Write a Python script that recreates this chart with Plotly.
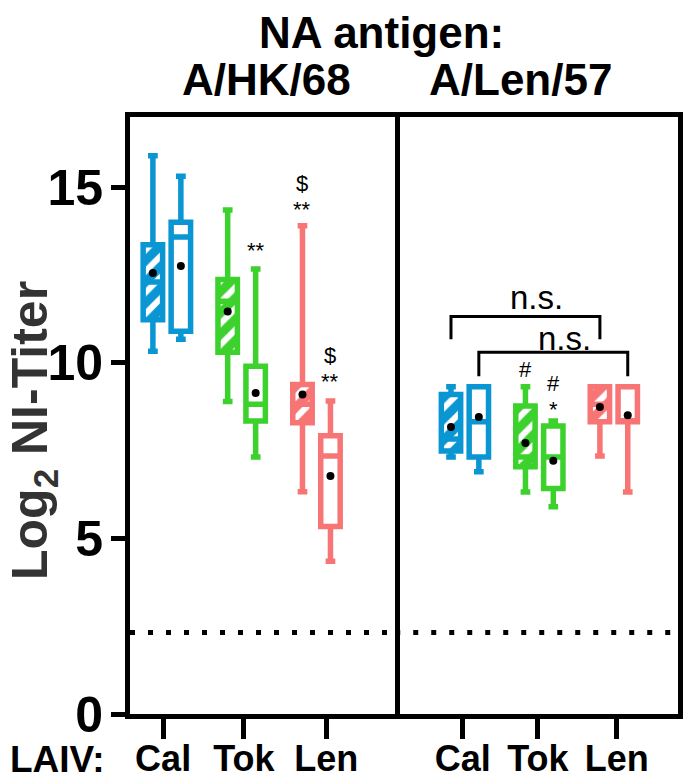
import plotly.graph_objects as go

# ---------------- data ----------------
laiv = ["Cal", "Tok", "Len"]
colors = {"Cal": "#0a95d3", "Tok": "#3dd12e", "Len": "#f77575"}

# NA antigen A/HK/68 : [hatched, open] per LAIV group
hk_low    = {"Cal": [10.33, 10.67], "Tok": [8.90, 7.32],  "Len": [6.33, 4.35]}
hk_q1     = {"Cal": [11.23, 10.90], "Tok": [10.30, 8.34], "Len": [8.29, 5.34]}
hk_median = {"Cal": [12.30, 13.58], "Tok": [11.75, 8.82], "Len": [8.82, 7.35]}
hk_q3     = {"Cal": [13.36, 14.00], "Tok": [12.37, 9.90], "Len": [9.38, 7.92]}
hk_high   = {"Cal": [15.90, 15.31], "Tok": [14.35, 12.67], "Len": [13.90, 8.91]}
hk_mean   = {"Cal": [12.56, 12.76], "Tok": [11.46, 9.14], "Len": [9.10, 6.78]}

# NA antigen A/Len/57
len_low    = {"Cal": [7.32, 6.90], "Tok": [6.32, 5.90], "Len": [7.35, 6.32]}
len_q1     = {"Cal": [7.49, 7.32], "Tok": [7.04, 6.42], "Len": [8.32, 8.32]}
len_median = {"Cal": [7.83, 8.32], "Tok": [7.32, 7.32], "Len": [8.82, 8.32]}
len_q3     = {"Cal": [9.10, 9.32], "Tok": [8.77, 8.20], "Len": [9.32, 9.32]}
len_high   = {"Cal": [9.32, 9.32], "Tok": [9.32, 8.34], "Len": [9.32, 9.32]}
len_mean   = {"Cal": [8.17, 8.46], "Tok": [7.72, 7.21], "Len": [8.74, 8.51]}

detection_limit = 2.32
y_ticks = [0, 5, 10, 15]

# significance labels: (panel, group, member, text, y)
sig_labels = [
    ("hk", "Tok", 1, "**", 13.2),
    ("hk", "Len", 0, "**", 14.38),
    ("hk", "Len", 0, "$", 15.1),
    ("hk", "Len", 1, "**", 9.48),
    ("hk", "Len", 1, "$", 10.2),
    ("len", "Tok", 0, "#", 9.82),
    ("len", "Tok", 1, "#", 9.42),
    ("len", "Tok", 1, "*", 8.68),
]
# brackets (panel len): (from group, member), (to group, member), bar y, leg y, text, text y
brackets = [
    (("Cal", 0), ("Len", 0), 11.32, 10.67, "n.s.", 11.85),
    (("Cal", 1), ("Len", 1), 10.30, 9.62, "n.s.", 10.68),
]

# ---------------- layout helpers ----------------
OFF = 0.187
BW = 0.26

def pos(g, m):
    return laiv.index(g) + (-OFF if m == 0 else OFF)

W, H = 689, 779
L, R, T, B = 130, 11, 117, 65
pw, ph = W - L - R, H - T - B
def px(xp): return (xp - L) / pw
def py(yp): return (H - B - yp) / ph

fig = go.Figure()

panels = [
    ("hk", "x", "y", hk_low, hk_q1, hk_median, hk_q3, hk_high, hk_mean),
    ("len", "x2", "y2", len_low, len_q1, len_median, len_q3, len_high, len_mean),
]

for name, xa, ya, lo, q1, med, q3, hi, mn in panels:
    for g in laiv:
        c = colors[g]
        fig.add_trace(go.Bar(
            x=[pos(g, 0)], y=[q3[g][0] - q1[g][0]], base=[q1[g][0]], width=BW,
            marker=dict(color=c, line=dict(width=0),
                        pattern=dict(shape="/", fgcolor="white", bgcolor=c,
                                     size=15, solidity=0.4, fillmode="replace")),
            xaxis=xa, yaxis=ya, showlegend=False, hoverinfo="skip"))
        for m in (0, 1):
            fig.add_trace(go.Box(
                x=[pos(g, m)], q1=[q1[g][m]], median=[med[g][m]], q3=[q3[g][m]],
                lowerfence=[lo[g][m]], upperfence=[hi[g][m]],
                width=BW, whiskerwidth=0.5,
                line=dict(color=c, width=5.5),
                fillcolor="rgba(0,0,0,0)" if m == 0 else "white",
                boxpoints=False, xaxis=xa, yaxis=ya, showlegend=False))
    fig.add_trace(go.Scatter(
        x=[pos(g, m) for g in laiv for m in (0, 1)],
        y=[mn[g][m] for g in laiv for m in (0, 1)],
        mode="markers", marker=dict(color="black", size=8),
        xaxis=xa, yaxis=ya, showlegend=False))

for xa, ya in (("x", "y"), ("x2", "y2")):
    fig.add_shape(type="line", xref=f"{xa} domain", yref=ya, x0=0, x1=1,
                  y0=detection_limit, y1=detection_limit,
                  line=dict(color="black", width=5, dash="5px,13px"))

ann_font = dict(family="Liberation Sans, Arial", size=22, color="black")
for panel, g, m, t, yv in sig_labels:
    xa = "x" if panel == "hk" else "x2"
    ya = "y" if panel == "hk" else "y2"
    fig.add_annotation(x=pos(g, m), y=yv, xref=xa, yref=ya, text=t,
                       showarrow=False, font=ann_font,
                       xanchor="center", yanchor="middle")

for (g0, m0), (g1, m1), ybar, yleg, t, yt in brackets:
    x0, x1 = pos(g0, m0), pos(g1, m1)
    fig.add_trace(go.Scatter(x=[x0, x0, x1, x1], y=[yleg, ybar, ybar, yleg],
                             mode="lines", line=dict(color="black", width=3),
                             xaxis="x2", yaxis="y2", showlegend=False,
                             hoverinfo="skip"))
    fig.add_annotation(x=(x0 + x1) / 2 + 0.15, y=yt, xref="x2", yref="y2",
                       text=t, showarrow=False, xanchor="center", yanchor="middle",
                       font=dict(family="Liberation Sans, Arial", size=33, color="black"))

bold = dict(family="Liberation Sans, Arial", size=40, color="black", weight="bold")
axis_common = dict(showgrid=False, zeroline=False, automargin=False,
                   linecolor="black", linewidth=5)

D = 0.484
fig.update_layout(
    width=W, height=H,
    margin=dict(l=L, r=R, t=T, b=B),
    plot_bgcolor="white", paper_bgcolor="white",
    barmode="overlay",
    xaxis=dict(domain=[0, D], range=[-0.493, 3.053],
               tickvals=[-0.05, 1.03, 2.13], ticktext=laiv,
               ticks="outside", ticklen=20, tickwidth=5, tickcolor="black",
               ticklabelstandoff=-11,
               tickfont=dict(bold, size=36), showline=True, mirror=True,
               **axis_common),
    xaxis2=dict(domain=[D, 1], range=[-0.936, 2.862], anchor="y2",
                tickvals=[-0.03, 0.98, 2.04], ticktext=laiv,
                ticks="outside", ticklen=20, tickwidth=5, tickcolor="black",
                ticklabelstandoff=-11,
                tickfont=dict(bold, size=36), showline=True, mirror=True,
                **axis_common),
    yaxis=dict(range=[0, 17], tickvals=y_ticks, ticks="outside", ticklen=14,
               tickwidth=5, tickcolor="black", tickfont=dict(bold, size=50),
               ticklabelstandoff=-2,
               showline=True, mirror=True, **axis_common),
    yaxis2=dict(range=[0, 17], anchor="x2", matches="y", showticklabels=False,
                ticks="", side="right", showline=True, mirror=False,
                **axis_common),
)

def paper_text(text, xp, yp, font, angle=0):
    fig.add_annotation(text=text, x=px(xp), y=py(yp), xref="paper", yref="paper",
                       xanchor="center", yanchor="middle", textangle=angle,
                       showarrow=False, font=font)

paper_text("LAIV:", 57, 759, dict(bold, size=37))
paper_text("Log<sub>2</sub> NI-Titer", 33, 431,
           dict(family="Liberation Sans, Arial", size=50, color="#333333",
                weight="bold"), angle=-90)
paper_text("NA antigen:", 381, 32, dict(bold, size=44))
paper_text("A/HK/68", 266, 80, dict(bold, size=44))
paper_text("A/Len/57", 520, 80, dict(bold, size=44))

fig.write_html("out.html",
               config=dict(displayModeBar=False),
               post_script="document.body.style.margin='0';"
                           "document.body.style.overflow='hidden';")
